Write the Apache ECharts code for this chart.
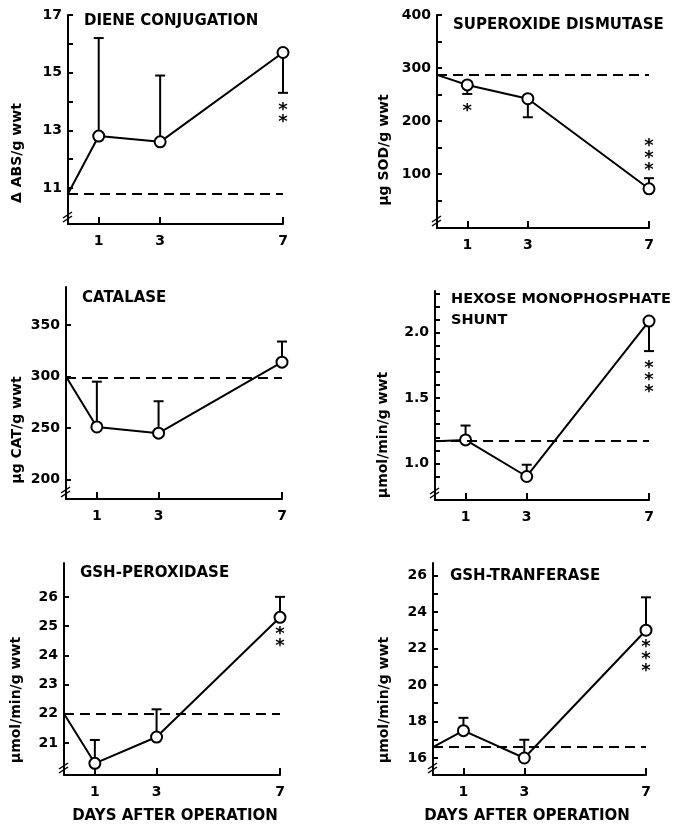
<!DOCTYPE html>
<html>
<head>
<meta charset="utf-8">
<script src="https://cdn.jsdelivr.net/npm/echarts@6/dist/echarts.min.js"></script>
<style>
  html, body { margin: 0; padding: 0; background: #fff; }
  #chart { width: 675px; height: 827px; }
</style>
</head>
<body>
<div id="chart"></div>
<script>
// days after operation, day 0 = control value sitting on the y axis
var days = [0, 1, 3, 7];
var dayTicks = [1, 3, 7];

// diene conjugation
var dieneMean = [10.8, 12.8, 12.6, 15.7];
var dieneErr = [null, 16.2, 14.9, 14.3];
var dieneStars = ['', '', '', '**'];
var dieneCtrl = 10.8;
var dieneTicks = [11, 12, 13, 14, 15, 16, 17];
var dieneLabels = [11, 13, 15, 17];

// superoxide dismutase
var sodMean = [287, 268, 242, 72];
var sodErr = [null, 251, 207, 92];
var sodStars = ['', '*', '', '***'];
var sodCtrl = 287;
var sodTicks = [50, 100, 150, 200, 250, 300, 350, 400];
var sodLabels = [100, 200, 300, 400];

// catalase
var catMean = [300, 251, 245, 314];
var catErr = [null, 295, 276, 334];
var catStars = ['', '', '', ''];
var catCtrl = 299;
var catTicks = [200, 250, 300, 350];
var catLabels = [200, 250, 300, 350];

// hexose monophosphate shunt
var hmpMean = [1.17, 1.18, 0.90, 2.09];
var hmpErr = [null, 1.29, 0.99, 1.86];
var hmpStars = ['', '', '', '***'];
var hmpCtrl = 1.165;
var hmpTicks = [0.9, 1.0, 1.1, 1.2, 1.3, 1.4, 1.5, 1.6, 1.7, 1.8, 1.9, 2.0, 2.1, 2.2, 2.3];
var hmpLabels = [1.0, 1.5, 2.0];

// GSH-peroxidase
var gpxMean = [22.0, 20.3, 21.2, 25.3];
var gpxErr = [null, 21.1, 22.15, 26.0];
var gpxStars = ['', '', '', '**'];
var gpxCtrl = 22.0;
var gpxTicks = [21, 22, 23, 24, 25, 26];
var gpxLabels = [21, 22, 23, 24, 25, 26];

// GSH-transferase
var gstMean = [16.6, 17.5, 16.0, 23.0];
var gstErr = [null, 18.2, 17.0, 24.8];
var gstStars = ['', '', '', '***'];
var gstCtrl = 16.6;
var gstTicks = [16, 17, 18, 19, 20, 21, 22, 23, 24, 25, 26];
var gstLabels = [16, 18, 20, 22, 24, 26];

var FONT = '"DejaVu Sans", sans-serif';

// starsAbove: days whose asterisks sit above the mark instead of below
var panels = [
  { title: 'DIENE CONJUGATION', titleSize: 15, titlePos: [84, 11], yName: '\u0394 ABS/g wwt', yNamePos: [17, 153],
    mean: dieneMean, err: dieneErr, stars: dieneStars, ctrl: dieneCtrl, ticks: dieneTicks, labels: dieneLabels,
    range: [9.75, 17], digits: 0, starsAbove: [], box: [68, 15, 215, 209] },
  { title: 'SUPEROXIDE DISMUTASE', titleSize: 15, titlePos: [453, 15], yName: '\u03bcg SOD/g wwt', yNamePos: [384, 150],
    mean: sodMean, err: sodErr, stars: sodStars, ctrl: sodCtrl, ticks: sodTicks, labels: sodLabels,
    range: [-2, 400], digits: 0, starsAbove: [7], box: [437, 15, 212, 213] },
  { title: 'CATALASE', titleSize: 15, titlePos: [82, 288], yName: '\u03bcg CAT/g wwt', yNamePos: [17, 430],
    mean: catMean, err: catErr, stars: catStars, ctrl: catCtrl, ticks: catTicks, labels: catLabels,
    range: [181, 387], digits: 0, starsAbove: [], box: [66, 287, 216, 212] },
  { title: 'HEXOSE MONOPHOSPHATE\nSHUNT', titleSize: 14.5, titlePos: [451, 289], yName: '\u03bcmol/min/g wwt', yNamePos: [383, 435],
    mean: hmpMean, err: hmpErr, stars: hmpStars, ctrl: hmpCtrl, ticks: hmpTicks, labels: hmpLabels,
    range: [0.72, 2.32], digits: 1, starsAbove: [], box: [435, 291, 214, 209] },
  { title: 'GSH-PEROXIDASE', titleSize: 15, titlePos: [80, 563], yName: '\u03bcmol/min/g wwt', yNamePos: [16, 700],
    mean: gpxMean, err: gpxErr, stars: gpxStars, ctrl: gpxCtrl, ticks: gpxTicks, labels: gpxLabels,
    range: [19.9, 27.16], digits: 0, starsAbove: [], box: [64, 563, 216, 212] },
  { title: 'GSH-TRANFERASE', titleSize: 15, titlePos: [450, 566], yName: '\u03bcmol/min/g wwt', yNamePos: [384, 700],
    mean: gstMean, err: gstErr, stars: gstStars, ctrl: gstCtrl, ticks: gstTicks, labels: gstLabels,
    range: [15.07, 26.68], digits: 0, starsAbove: [], box: [433, 563, 213, 212] }
];

var option = {
  animation: false,
  backgroundColor: '#fff',
  title: [],
  grid: [],
  xAxis: [],
  yAxis: [],
  series: [],
  graphic: []
};

panels.forEach(function (p, i) {
  option.grid.push({ left: p.box[0], top: p.box[1], width: p.box[2], height: p.box[3] });

  option.title.push({
    text: p.title, left: p.titlePos[0], top: p.titlePos[1], padding: 0,
    textStyle: { fontFamily: FONT, fontWeight: 'bold', fontSize: p.titleSize, color: '#000', lineHeight: 21 }
  });

  option.xAxis.push({
    type: 'value', gridIndex: i, min: 0, max: 7,
    axisLine: { show: true, onZero: false, lineStyle: { color: '#000', width: 2 } },
    axisTick: { show: true, inside: true, length: 7, customValues: dayTicks, lineStyle: { color: '#000', width: 2 } },
    axisLabel: { show: true, customValues: dayTicks, margin: 10, color: '#000', fontFamily: FONT, fontWeight: 'bold', fontSize: 14 },
    splitLine: { show: false }
  });

  option.yAxis.push({
    type: 'value', gridIndex: i, min: p.range[0], max: p.range[1],
    axisLine: { show: true, onZero: false, lineStyle: { color: '#000', width: 2 } },
    axisTick: { show: true, inside: true, length: 5, customValues: p.ticks, lineStyle: { color: '#000', width: 2 } },
    axisLabel: {
      show: true, customValues: p.labels, margin: 6, color: '#000', fontFamily: FONT, fontWeight: 'bold', fontSize: 14,
      formatter: function (v) { return Number(v).toFixed(p.digits); }
    },
    splitLine: { show: false }
  });

  // mean line with open circles, dashed control level
  var lineData = p.mean.map(function (v, k) {
    return k === 0 ? { value: [days[k], v], symbol: 'none' } : [days[k], v];
  });
  option.series.push({
    type: 'line', xAxisIndex: i, yAxisIndex: i, z: 4,
    data: lineData,
    symbol: 'circle', symbolSize: 11,
    itemStyle: { color: '#fff', borderColor: '#000', borderWidth: 2 },
    lineStyle: { color: '#000', width: 2 },
    markLine: {
      silent: true, symbol: 'none', label: { show: false },
      lineStyle: { type: [10, 6], color: '#000', width: 2 },
      data: [{ yAxis: p.ctrl }]
    }
  });

  // error bars (one side only)
  var errData = [];
  p.err.forEach(function (e, k) {
    if (e !== null) errData.push([days[k], p.mean[k], e]);
  });
  option.series.push({
    type: 'custom', xAxisIndex: i, yAxisIndex: i, z: 3,
    data: errData,
    renderItem: function (params, api) {
      var a = api.coord([api.value(0), api.value(1)]);
      var b = api.coord([api.value(0), api.value(2)]);
      return {
        type: 'group',
        children: [
          { type: 'line', shape: { x1: a[0], y1: a[1], x2: b[0], y2: b[1] }, style: { stroke: '#000', lineWidth: 2 } },
          { type: 'line', shape: { x1: b[0] - 5, y1: b[1], x2: b[0] + 5, y2: b[1] }, style: { stroke: '#000', lineWidth: 2 } }
        ]
      };
    }
  });

  // significance asterisks
  var starData = [];
  p.stars.forEach(function (s, k) {
    if (!s) return;
    var lo = p.err[k] === null ? p.mean[k] : Math.min(p.mean[k], p.err[k]);
    var hi = p.err[k] === null ? p.mean[k] : Math.max(p.mean[k], p.err[k]);
    var up = p.starsAbove.indexOf(days[k]) >= 0;
    starData.push([days[k], up ? hi : lo, s.length, up ? 1 : 0]);
  });
  option.series.push({
    type: 'custom', xAxisIndex: i, yAxisIndex: i, z: 5,
    data: starData,
    renderItem: function (params, api) {
      var c = api.coord([api.value(0), api.value(1)]);
      var n = api.value(2);
      var up = api.value(3) === 1;
      var kids = [];
      for (var s = 0; s < n; s++) {
        var y = up ? c[1] - 12 - (n - 1 - s) * 12 : c[1] + 13 + s * 12;
        kids.push({
          type: 'text',
          style: { text: '*', x: c[0], y: y + 4, align: 'center', verticalAlign: 'middle', font: 'bold 18px ' + FONT, fill: '#000' }
        });
      }
      return { type: 'group', children: kids };
    }
  });

  // rotated y axis name
  option.graphic.push({
    type: 'text', x: p.yNamePos[0], y: p.yNamePos[1], rotation: Math.PI / 2,
    style: { text: p.yName, font: 'bold 14px ' + FONT, fill: '#000', align: 'center', verticalAlign: 'middle' }
  });

  // axis break mark at the foot of the y axis
  option.graphic.push({
    type: 'group', x: p.box[0], y: p.box[1] + p.box[3] - 6, z: 100,
    children: [
      { type: 'rect', shape: { x: -2, y: -3, width: 4, height: 5 }, style: { fill: '#fff' } },
      { type: 'line', shape: { x1: -5, y1: 0, x2: 4, y2: -6 }, style: { stroke: '#000', lineWidth: 1.5 } },
      { type: 'line', shape: { x1: -5, y1: 4, x2: 4, y2: -2 }, style: { stroke: '#000', lineWidth: 1.5 } }
    ]
  });
});

// shared x axis title under the bottom row
[[175, 816], [527, 816]].forEach(function (pos) {
  option.graphic.push({
    type: 'text', x: pos[0], y: pos[1],
    style: { text: 'DAYS AFTER OPERATION', font: 'bold 15px ' + FONT, fill: '#000', align: 'center', verticalAlign: 'middle' }
  });
});

var chart = echarts.init(document.getElementById('chart'));
chart.setOption(option);
</script>
</body>
</html>
